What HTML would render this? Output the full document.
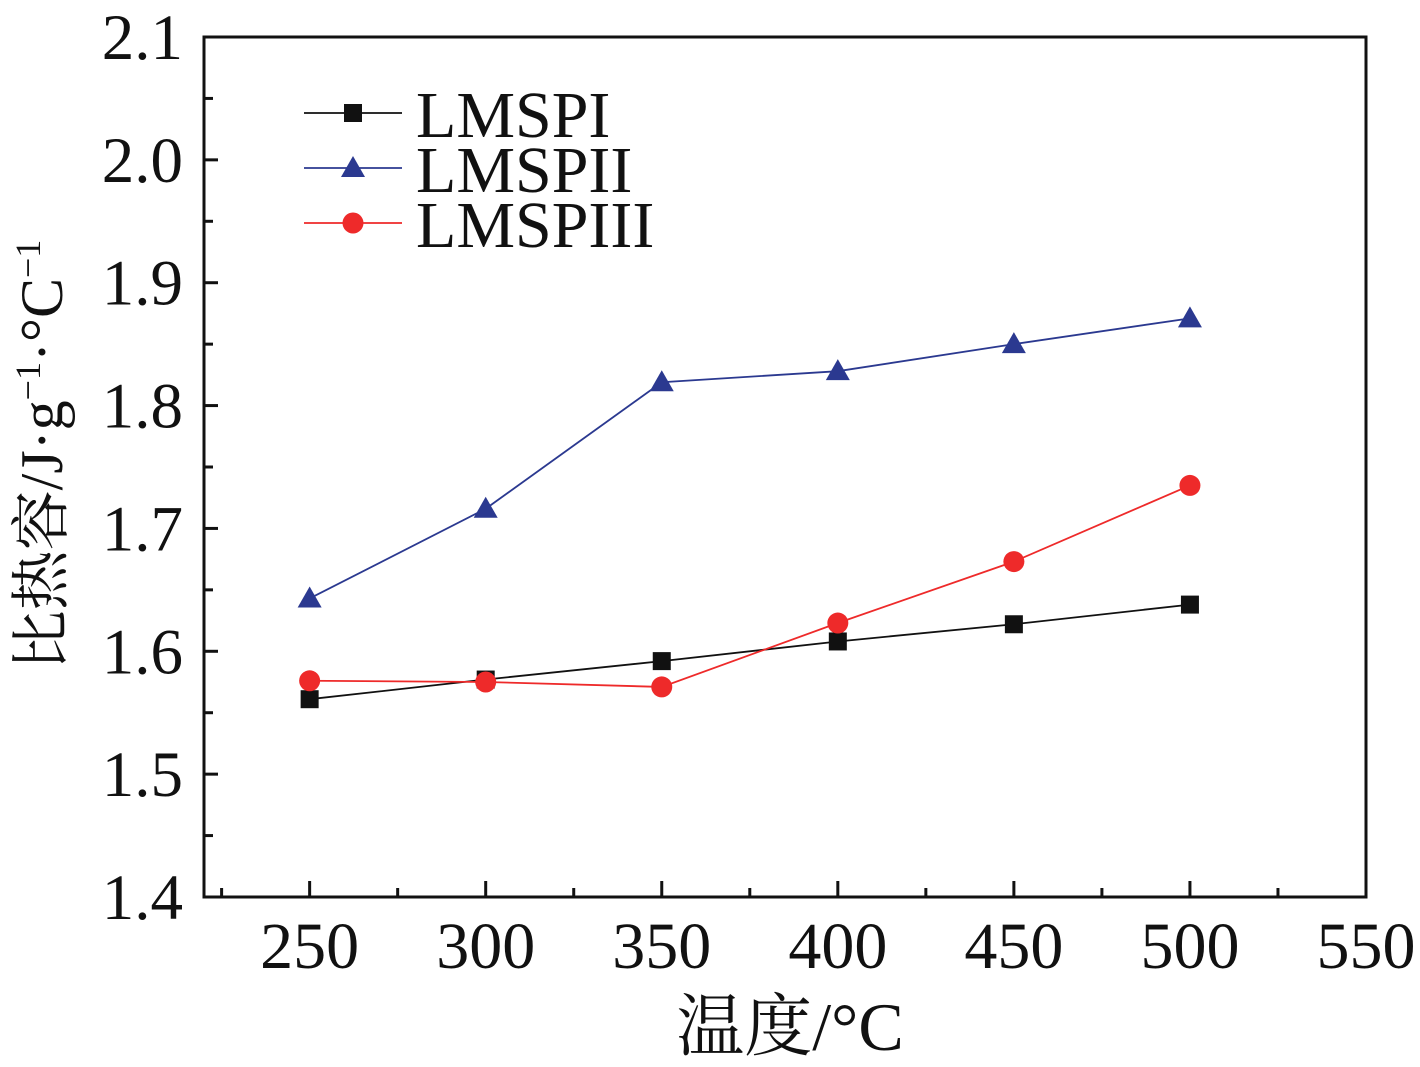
<!DOCTYPE html>
<html><head><meta charset="utf-8"><style>
body{margin:0;background:#fff}
svg text{font-family:"Liberation Serif","Noto Serif CJK SC",serif;fill:#111}
</style></head><body>
<svg id="chart" width="1420" height="1062" xmlns="http://www.w3.org/2000/svg">
<g id="g"></g>
</svg>
<script>
const xValues=[250,300,350,400,450,500];
const seriesNames=["LMSPI","LMSPII","LMSPIII"];
const lmspI=[1.561,1.577,1.592,1.608,1.622,1.638];
const lmspII=[1.643,1.716,1.819,1.828,1.850,1.871];
const lmspIII=[1.576,1.575,1.571,1.623,1.673,1.735];
const xTicks=[250,300,350,400,450,500,550];
const yTicks=["1.4","1.5","1.6","1.7","1.8","1.9","2.0","2.1"];

const L=204,R=1366,T=37,B=897;
const xs=v=>L+(v-220)*(R-L)/330;
const ys=v=>B-(v-1.4)*(B-T)/0.7;
const NS="http://www.w3.org/2000/svg";
const g=document.getElementById('g');
function mk(tag,attrs,parent){const e=document.createElementNS(NS,tag);for(const k in attrs)e.setAttribute(k,attrs[k]);(parent||g).appendChild(e);return e;}

const frame=mk('rect',{x:L,y:T,width:R-L,height:B-T,fill:'none',stroke:'#111','stroke-width':3});



xTicks.forEach(v=>{
  const x=xs(v);
  const t=mk('line',{x1:x,x2:x,y1:B,y2:B-16,stroke:'#111','stroke-width':3});
  
  
  if(v-25>220){const m=mk('line',{x1:xs(v-25),x2:xs(v-25),y1:B,y2:B-9,stroke:'#111','stroke-width':3});
  
  }
  const lb=mk('text',{x:x,y:968,'font-size':66,'text-anchor':'middle'});lb.textContent=v;
  
  
});
yTicks.forEach(s=>{
  const v=parseFloat(s),y=ys(v);
  const t=mk('line',{x1:L,x2:L+14,y1:y,y2:y,stroke:'#111','stroke-width':3});
  
  
  if(v>1.45){const m=mk('line',{x1:L,x2:L+9,y1:ys(v-0.05),y2:ys(v-0.05),stroke:'#111','stroke-width':3});
  
  }
  const lb=mk('text',{x:183,y:y+22,'font-size':65,'text-anchor':'end'});lb.textContent=s;
  
  
});

const xt=mk('text',{x:790,y:1050,'font-size':68,'text-anchor':'middle'});xt.textContent='温度/°C';


const yt=mk('text',{x:0,y:0,'font-size':60,'text-anchor':'middle',transform:'translate(62,455) rotate(-90)'});
yt.innerHTML='比热容/J·g<tspan dy="-22" font-size="36">−1</tspan><tspan dy="22">·°C</tspan><tspan dy="-22" font-size="36">−1</tspan>';



const colors=['#111','#2b3990','#ee2a2a'];
const data=[lmspI,lmspII,lmspIII];
function marker(k,x,y,parent){
  if(k===0) return mk('rect',{x:x-9,y:y-9,width:18,height:18,fill:'#111'},parent);
  if(k===1) return mk('polygon',{points:`${x},${y-12} ${x-12},${y+9} ${x+12},${y+9}`,fill:'#2b3990'},parent);
  return mk('circle',{cx:x,cy:y,r:10.5,fill:'#ee2a2a'},parent);
}
data.forEach((arr,k)=>{
  const sg=mk('g',{});
  
  
  mk('polyline',{points:arr.map((v,i)=>xs(xValues[i])+','+ys(v)).join(' '),fill:'none',stroke:colors[k],'stroke-width':1.8},sg);
  arr.forEach((v,i)=>{const m=marker(k,xs(xValues[i]),ys(v),sg);
    
    });
  const ly=113+k*55;
  const le=mk('g',{});
  
  
  mk('line',{x1:304,x2:402,y1:ly,y2:ly,stroke:colors[k],'stroke-width':1.8},le);
  marker(k,353,ly,le);
  const tx=mk('text',{x:416,y:ly+24,'font-size':66},le);tx.textContent=seriesNames[k];
});
</script>
</body></html>
